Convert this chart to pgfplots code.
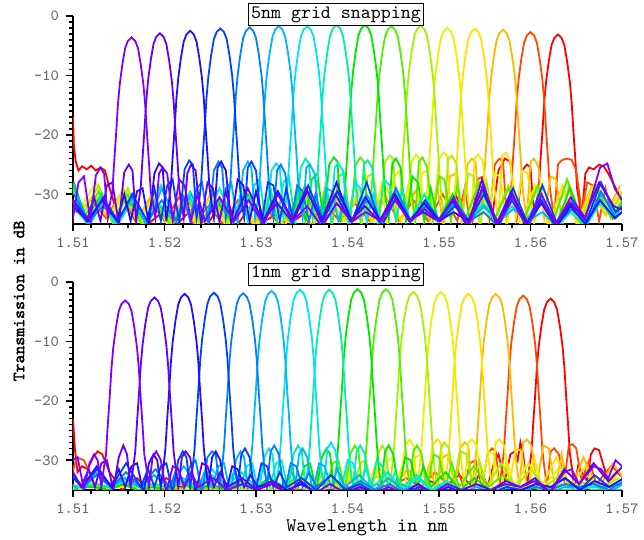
\documentclass[border=0pt]{standalone}
\usepackage{fontspec}
\usepackage{pgfplots}
\pgfplotsset{compat=1.18}

% emboldened mono for the y label
\newfontfamily\labelfont{lmmono10-regular.otf}[FakeBold=2.2]

% rainbow, channel 1 (violet) to channel 16 (red)
\definecolor{c1}{HTML}{8000FF}
\definecolor{c2}{HTML}{6000FF}
\definecolor{c3}{HTML}{2010FF}
\definecolor{c4}{HTML}{0040FF}
\definecolor{c5}{HTML}{0080FF}
\definecolor{c6}{HTML}{00B4FF}
\definecolor{c7}{HTML}{00E4F0}
\definecolor{c8}{HTML}{00F0A8}
\definecolor{c9}{HTML}{00E800}
\definecolor{c10}{HTML}{50F000}
\definecolor{c11}{HTML}{A8F000}
\definecolor{c12}{HTML}{E8F000}
\definecolor{c13}{HTML}{FFE000}
\definecolor{c14}{HTML}{FFB800}
\definecolor{c15}{HTML}{FF4800}
\definecolor{c16}{HTML}{FF0000}

\pgfplotsset{
  wdm/.style={
    scale only axis, width=274.5pt, height=104pt,
    xmin=1.51, xmax=1.57, ymin=-35, ymax=0,
    axis x line*=bottom, axis y line*=left,
    axis line style={line width=1pt, -},
    xtick={1.51,1.52,1.53,1.54,1.55,1.56,1.57},
    ytick={-30,-20,-10,0},
    minor x tick num=4, minor y tick num=9,
    tick align=outside,
    major tick length=3.5pt, minor tick length=2pt,
    tick style={black, line width=0.8pt},
    scaled x ticks=false,
    xticklabel style={/pgf/number format/fixed, /pgf/number format/fixed zerofill, /pgf/number format/precision=2},
    /pgf/number format/assume math mode=true,
    ticklabel style={font=\ttfamily\fontsize{7.8}{9}\selectfont, text=black!60},
    every axis title shift=0pt,
    title style={font=\ttfamily\fontsize{9.5}{11}\selectfont, draw=black, fill=white, inner sep=1.5pt, at={(0.479,1)}, anchor=center},
    every axis plot/.append style={line width=0.9pt, mark=none},
  }
}

\begin{document}
\begin{tikzpicture}
\path[use as bounding box] (-36.5pt,-25pt) rectangle (285.5pt,245pt);

% ---------------- 5nm grid snapping ----------------
\begin{axis}[wdm, at={(0,133pt)}, anchor=south west, title={5nm grid snapping}, title style={yshift=0.8pt}]
\addplot[c16] coordinates {(1.5100,-17) (1.5101,-22) (1.5103,-24.5) (1.5106,-26) (1.5110,-25.3) (1.5115,-25.8) (1.5120,-25.2) (1.5125,-26) (1.5130,-25.5) (1.5135,-26) (1.5140,-29) (1.5150,-34) (1.5166,-31) (1.5182,-35) (1.5198,-33) (1.5214,-35) (1.5230,-32.5) (1.5246,-35.5) (1.5262,-31) (1.5278,-35.5) (1.5294,-32) (1.5310,-34.5) (1.5326,-33) (1.5342,-34.5) (1.5358,-32.5) (1.5374,-34.5) (1.5390,-31.5) (1.5406,-34.5) (1.5422,-33) (1.5438,-34.5) (1.5454,-31) (1.5470,-34.5) (1.5486,-32) (1.5502,-34.5) (1.5518,-30) (1.5534,-35.5) (1.5550,-29) (1.5558,-34) (1.5565,-26) (1.5572,-24) (1.5578,-24.5) (1.5585,-34) (1.5591,-26) (1.5596,-25) (1.5600,-25.5) (1.5604,-34)
 (1.5607,-31) (1.5609,-29.1) (1.5611,-24.1) (1.5613,-19.6) (1.5615,-14.6) (1.5617,-11.1) (1.5620,-7.6) (1.5623,-4.9) (1.5626,-3.7) (1.5630,-3.1) (1.5634,-3.7) (1.5637,-4.9) (1.5640,-7.6) (1.5643,-11.1) (1.5645,-14.6) (1.5647,-19.6) (1.5649,-24.1) (1.5651,-29.1) (1.5653,-31)
 (1.5656,-34) (1.5660,-26.5) (1.5664,-25.5) (1.5669,-25.8) (1.5675,-25) (1.5680,-25.3) (1.5685,-26.5) (1.5690,-28) (1.5700,-31)};
\addplot[c15] coordinates {(1.5088,-30) (1.5104,-33) (1.5120,-31) (1.5136,-34) (1.5152,-30) (1.5168,-34.5) (1.5184,-31) (1.5200,-34.5) (1.5216,-30.5) (1.5232,-35) (1.5248,-32) (1.5264,-35) (1.5280,-31) (1.5296,-35) (1.5312,-32.5) (1.5328,-35.5) (1.5344,-31) (1.5360,-35.5) (1.5376,-32) (1.5392,-34.5) (1.5408,-31.5) (1.5424,-34.5) (1.5440,-30) (1.5456,-34.5) (1.5472,-31) (1.5488,-34.5) (1.5504,-30) (1.5520,-34.5) (1.5528,-29) (1.5535,-35.5) (1.5542,-27.5) (1.5548,-27) (1.5555,-34) (1.5561,-25) (1.5566,-24) (1.5570,-24.5) (1.5574,-34)
 (1.5577,-31) (1.5579,-28.7) (1.5581,-23.7) (1.5583,-19.2) (1.5585,-14.2) (1.5587,-10.7) (1.5590,-7.2) (1.5593,-4.5) (1.5596,-3.3) (1.5600,-2.7) (1.5604,-3.3) (1.5607,-4.5) (1.5610,-7.2) (1.5613,-10.7) (1.5615,-14.2) (1.5617,-19.2) (1.5619,-23.7) (1.5621,-28.7) (1.5623,-31)
 (1.5626,-34) (1.5630,-25) (1.5634,-24.3) (1.5639,-24) (1.5645,-24.2) (1.5650,-26) (1.5656,-33) (1.5662,-28) (1.5668,-28.5) (1.5675,-34.5) (1.5682,-29) (1.5690,-34) (1.5706,-30)};
\addplot[c14] coordinates {(1.5090,-28) (1.5106,-33) (1.5122,-30.5) (1.5138,-34) (1.5154,-29.5) (1.5170,-34.5) (1.5186,-30) (1.5202,-34.5) (1.5218,-31.5) (1.5234,-35) (1.5250,-30) (1.5266,-35) (1.5282,-32) (1.5298,-35) (1.5314,-30.5) (1.5330,-35.5) (1.5346,-31.5) (1.5362,-35.5) (1.5378,-30) (1.5394,-34.5) (1.5410,-31) (1.5426,-34.5) (1.5442,-30.5) (1.5458,-34.5) (1.5474,-29.5) (1.5490,-34.5) (1.5498,-28.5) (1.5505,-35.5) (1.5512,-27) (1.5518,-26.5) (1.5525,-34) (1.5531,-25) (1.5536,-24) (1.5540,-24.5) (1.5544,-34)
 (1.5547,-31) (1.5549,-28.3) (1.5551,-23.3) (1.5553,-18.8) (1.5555,-13.8) (1.5557,-10.3) (1.5560,-6.8) (1.5563,-4.1) (1.5566,-2.9) (1.5570,-2.3) (1.5574,-2.9) (1.5577,-4.1) (1.5580,-6.8) (1.5583,-10.3) (1.5585,-13.8) (1.5587,-18.8) (1.5589,-23.3) (1.5591,-28.3) (1.5593,-31)
 (1.5596,-34) (1.5600,-24.5) (1.5604,-24) (1.5609,-25.5) (1.5615,-34) (1.5622,-27) (1.5628,-27.5) (1.5635,-35) (1.5642,-28.5) (1.5650,-35) (1.5666,-29) (1.5682,-33.5) (1.5698,-28.5)};
\addplot[c13] coordinates {(1.5091,-29) (1.5107,-33) (1.5123,-30) (1.5139,-34) (1.5155,-29) (1.5171,-34.5) (1.5187,-30.5) (1.5203,-35) (1.5219,-32) (1.5235,-35) (1.5251,-30) (1.5267,-35) (1.5283,-31.5) (1.5299,-35.5) (1.5315,-30.5) (1.5331,-35.5) (1.5347,-29.5) (1.5363,-34.5) (1.5379,-31) (1.5395,-34.5) (1.5411,-30) (1.5427,-34.5) (1.5443,-29) (1.5459,-34.5) (1.5467,-28) (1.5474,-35) (1.5481,-26.5) (1.5487,-26) (1.5494,-33.5) (1.5500,-24) (1.5505,-23) (1.5509,-23.5) (1.5513,-34)
 (1.5516,-31) (1.5518,-28.1) (1.5520,-23.1) (1.5522,-18.6) (1.5524,-13.6) (1.5526,-10.1) (1.5529,-6.6) (1.5532,-3.9) (1.5535,-2.7) (1.5539,-2.1) (1.5543,-2.7) (1.5546,-3.9) (1.5549,-6.6) (1.5552,-10.1) (1.5554,-13.6) (1.5556,-18.6) (1.5558,-23.1) (1.5560,-28.1) (1.5562,-31)
 (1.5565,-34) (1.5569,-23.5) (1.5573,-23) (1.5578,-24.5) (1.5584,-34) (1.5591,-26) (1.5597,-26.5) (1.5604,-35) (1.5611,-28) (1.5619,-35.5) (1.5635,-28.5) (1.5651,-35) (1.5667,-29) (1.5683,-33.5) (1.5699,-29.5)};
\addplot[c12] coordinates {(1.5093,-27) (1.5109,-32) (1.5125,-28) (1.5141,-34) (1.5157,-29.5) (1.5173,-34.5) (1.5189,-30) (1.5205,-35) (1.5221,-31) (1.5237,-35) (1.5253,-32) (1.5269,-35.5) (1.5285,-30.5) (1.5301,-35.5) (1.5317,-31.5) (1.5333,-34.5) (1.5349,-30) (1.5365,-34.5) (1.5381,-30.5) (1.5397,-34.5) (1.5413,-29) (1.5429,-34.5) (1.5437,-28.5) (1.5444,-35.5) (1.5451,-27) (1.5457,-26) (1.5464,-34) (1.5470,-24.5) (1.5475,-23.3) (1.5479,-24) (1.5483,-34)
 (1.5486,-31) (1.5488,-28) (1.5490,-23) (1.5492,-18.5) (1.5494,-13.5) (1.5496,-10) (1.5499,-6.5) (1.5502,-3.8) (1.5505,-2.6) (1.5509,-2.0) (1.5513,-2.6) (1.5516,-3.8) (1.5519,-6.5) (1.5522,-10) (1.5524,-13.5) (1.5526,-18.5) (1.5528,-23) (1.5530,-28) (1.5532,-31)
 (1.5535,-34) (1.5539,-24) (1.5543,-23.3) (1.5548,-24.5) (1.5554,-34) (1.5561,-26.5) (1.5567,-27) (1.5574,-35.5) (1.5581,-28) (1.5589,-35.5) (1.5605,-28.5) (1.5621,-35) (1.5637,-29.5) (1.5653,-35) (1.5669,-28.5) (1.5685,-33) (1.5701,-29.5)};
\addplot[c11] coordinates {(1.5096,-27) (1.5112,-33) (1.5128,-28.5) (1.5144,-34.5) (1.5160,-29) (1.5176,-35) (1.5192,-31) (1.5208,-35) (1.5224,-30.5) (1.5240,-35.5) (1.5256,-31.5) (1.5272,-35.5) (1.5288,-29.5) (1.5304,-34.5) (1.5320,-31) (1.5336,-34.5) (1.5352,-30) (1.5368,-34.5) (1.5384,-29.5) (1.5400,-34.5) (1.5408,-28) (1.5415,-35.5) (1.5422,-27) (1.5428,-26.5) (1.5435,-34.5) (1.5441,-24.5) (1.5446,-23.5) (1.5450,-24) (1.5454,-34)
 (1.5457,-31) (1.5459,-27.6) (1.5461,-22.6) (1.5463,-18.1) (1.5465,-13.1) (1.5467,-9.6) (1.5470,-6.1) (1.5473,-3.4) (1.5476,-2.2) (1.5480,-1.6) (1.5484,-2.2) (1.5487,-3.4) (1.5490,-6.1) (1.5493,-9.6) (1.5495,-13.1) (1.5497,-18.1) (1.5499,-22.6) (1.5501,-27.6) (1.5503,-31)
 (1.5506,-34) (1.5510,-24) (1.5514,-23.5) (1.5519,-24.8) (1.5525,-34.5) (1.5532,-26.5) (1.5538,-27) (1.5545,-35.5) (1.5552,-28) (1.5560,-34.5) (1.5576,-28.5) (1.5592,-34.5) (1.5608,-29) (1.5624,-35) (1.5640,-27.5) (1.5656,-34) (1.5672,-28.5) (1.5688,-33) (1.5704,-29)};
\addplot[c10] coordinates {(1.5096,-27.5) (1.5112,-34) (1.5128,-29.5) (1.5144,-35) (1.5160,-30) (1.5176,-35.5) (1.5192,-32) (1.5208,-35.5) (1.5224,-30.5) (1.5240,-34.5) (1.5256,-31) (1.5272,-34.5) (1.5288,-29.5) (1.5304,-34.5) (1.5320,-30.5) (1.5336,-34.5) (1.5352,-29) (1.5368,-34.5) (1.5376,-28.5) (1.5383,-35.5) (1.5390,-27) (1.5396,-26.5) (1.5403,-34.5) (1.5409,-25) (1.5414,-23.8) (1.5418,-24.5) (1.5422,-34)
 (1.5425,-31) (1.5427,-27.7) (1.5429,-22.7) (1.5431,-18.2) (1.5433,-13.2) (1.5435,-9.7) (1.5438,-6.2) (1.5441,-3.5) (1.5444,-2.3) (1.5448,-1.7) (1.5452,-2.3) (1.5455,-3.5) (1.5458,-6.2) (1.5461,-9.7) (1.5463,-13.2) (1.5465,-18.2) (1.5467,-22.7) (1.5469,-27.7) (1.5471,-31)
 (1.5474,-34) (1.5478,-24.5) (1.5482,-23.8) (1.5487,-25.5) (1.5493,-34.5) (1.5500,-27) (1.5506,-27.5) (1.5513,-34.5) (1.5520,-28.5) (1.5528,-34.5) (1.5544,-28) (1.5560,-34.5) (1.5576,-29) (1.5592,-34.5) (1.5608,-28.5) (1.5624,-35) (1.5640,-27.5) (1.5656,-35) (1.5672,-29) (1.5688,-34) (1.5704,-30)};
\addplot[c9] coordinates {(1.5099,-28) (1.5115,-34) (1.5131,-30) (1.5147,-35) (1.5163,-31.5) (1.5179,-34.5) (1.5195,-32) (1.5211,-34.5) (1.5227,-30.5) (1.5243,-34.5) (1.5259,-31.5) (1.5275,-34.5) (1.5291,-30) (1.5307,-34.5) (1.5323,-29.5) (1.5339,-34.5) (1.5347,-28.5) (1.5354,-34.5) (1.5361,-27.5) (1.5367,-26.5) (1.5374,-34.5) (1.5380,-25) (1.5385,-23.8) (1.5389,-24.5) (1.5393,-34)
 (1.5396,-31) (1.5398,-27.5) (1.5400,-22.5) (1.5402,-18) (1.5404,-13) (1.5406,-9.5) (1.5409,-6) (1.5412,-3.3) (1.5415,-2.1) (1.5419,-1.5) (1.5423,-2.1) (1.5426,-3.3) (1.5429,-6) (1.5432,-9.5) (1.5434,-13) (1.5436,-18) (1.5438,-22.5) (1.5440,-27.5) (1.5442,-31)
 (1.5445,-34) (1.5449,-24.8) (1.5453,-24) (1.5458,-25.5) (1.5464,-34.5) (1.5471,-27) (1.5477,-28) (1.5484,-34.5) (1.5491,-29) (1.5499,-34.5) (1.5515,-30) (1.5531,-34.5) (1.5547,-29.5) (1.5563,-34.5) (1.5579,-31) (1.5595,-34.5) (1.5611,-30.5) (1.5627,-35.5) (1.5643,-29) (1.5659,-35) (1.5675,-31) (1.5691,-34) (1.5707,-30)};
\addplot[c8] coordinates {(1.5100,-32) (1.5116,-35) (1.5132,-30) (1.5148,-35.5) (1.5164,-31) (1.5180,-34.5) (1.5196,-32) (1.5212,-34.5) (1.5228,-29.5) (1.5244,-34.5) (1.5260,-31) (1.5276,-34.5) (1.5292,-30.5) (1.5308,-34.5) (1.5316,-29) (1.5323,-34.5) (1.5330,-28) (1.5336,-27) (1.5343,-35) (1.5349,-25.5) (1.5354,-24) (1.5358,-24.8) (1.5362,-34)
 (1.5365,-31) (1.5367,-27.5) (1.5369,-22.5) (1.5371,-18) (1.5373,-13) (1.5375,-9.5) (1.5378,-6) (1.5381,-3.3) (1.5384,-2.1) (1.5388,-1.5) (1.5392,-2.1) (1.5395,-3.3) (1.5398,-6) (1.5401,-9.5) (1.5403,-13) (1.5405,-18) (1.5407,-22.5) (1.5409,-27.5) (1.5411,-31)
 (1.5414,-34) (1.5418,-25) (1.5422,-24.3) (1.5427,-25.5) (1.5433,-35) (1.5440,-27.5) (1.5446,-28.5) (1.5453,-34.5) (1.5460,-29) (1.5468,-34.5) (1.5484,-30) (1.5500,-34.5) (1.5516,-30.5) (1.5532,-34.5) (1.5548,-31.5) (1.5564,-34.5) (1.5580,-32) (1.5596,-34.5) (1.5612,-31) (1.5628,-35.5) (1.5644,-33) (1.5660,-35.5) (1.5676,-31.5) (1.5692,-34) (1.5708,-32)};
\addplot[c7] coordinates {(1.5100,-29.5) (1.5116,-35) (1.5132,-31) (1.5148,-35.5) (1.5164,-30) (1.5180,-34.5) (1.5196,-28.5) (1.5212,-34.5) (1.5228,-30.5) (1.5244,-34.5) (1.5260,-29) (1.5276,-34.5) (1.5284,-29.5) (1.5291,-34.5) (1.5298,-28.5) (1.5304,-27.5) (1.5311,-35) (1.5317,-26) (1.5322,-24.8) (1.5326,-25.5) (1.5330,-34)
 (1.5333,-31) (1.5335,-27.7) (1.5337,-22.7) (1.5339,-18.2) (1.5341,-13.2) (1.5343,-9.7) (1.5346,-6.2) (1.5349,-3.5) (1.5352,-2.3) (1.5356,-1.7) (1.5360,-2.3) (1.5363,-3.5) (1.5366,-6.2) (1.5369,-9.7) (1.5371,-13.2) (1.5373,-18.2) (1.5375,-22.7) (1.5377,-27.7) (1.5379,-31)
 (1.5382,-34) (1.5386,-25.5) (1.5390,-24.8) (1.5395,-26) (1.5401,-35) (1.5408,-28) (1.5414,-29) (1.5421,-34.5) (1.5428,-30) (1.5436,-34.5) (1.5452,-29.5) (1.5468,-34.5) (1.5484,-31.5) (1.5500,-34.5) (1.5516,-30.5) (1.5532,-34.5) (1.5548,-32) (1.5564,-34.5) (1.5580,-31) (1.5596,-34.5) (1.5612,-30) (1.5628,-35.5) (1.5644,-32) (1.5660,-35) (1.5676,-31) (1.5692,-34) (1.5708,-30)};
\addplot[c6] coordinates {(1.5101,-28) (1.5117,-35.5) (1.5133,-31) (1.5149,-34.5) (1.5165,-30.5) (1.5181,-35.5) (1.5197,-29) (1.5213,-34.5) (1.5229,-30) (1.5245,-34.5) (1.5253,-29.5) (1.5260,-34.5) (1.5267,-29) (1.5273,-28) (1.5280,-35) (1.5286,-26) (1.5291,-24.5) (1.5295,-25.5) (1.5299,-34)
 (1.5302,-31) (1.5304,-27.7) (1.5306,-22.7) (1.5308,-18.2) (1.5310,-13.2) (1.5312,-9.7) (1.5315,-6.2) (1.5318,-3.5) (1.5321,-2.3) (1.5325,-1.7) (1.5329,-2.3) (1.5332,-3.5) (1.5335,-6.2) (1.5338,-9.7) (1.5340,-13.2) (1.5342,-18.2) (1.5344,-22.7) (1.5346,-27.7) (1.5348,-31)
 (1.5351,-34) (1.5355,-25.5) (1.5359,-25) (1.5364,-26.5) (1.5370,-35) (1.5377,-29) (1.5383,-29.5) (1.5390,-34.5) (1.5397,-30.5) (1.5405,-34.5) (1.5421,-30) (1.5437,-34.5) (1.5453,-29) (1.5469,-34.5) (1.5485,-31) (1.5501,-34.5) (1.5517,-31.5) (1.5533,-34.5) (1.5549,-32) (1.5565,-34.5) (1.5581,-32.5) (1.5597,-34.5) (1.5613,-33) (1.5629,-35.5) (1.5645,-31) (1.5661,-35) (1.5677,-30) (1.5693,-33) (1.5709,-31)};
\addplot[c5] coordinates {(1.5101,-30) (1.5117,-34.5) (1.5133,-32) (1.5149,-34.5) (1.5165,-30) (1.5181,-34.5) (1.5197,-31) (1.5213,-34.5) (1.5221,-30.5) (1.5228,-34.5) (1.5235,-29) (1.5241,-28) (1.5248,-35) (1.5254,-26) (1.5259,-24.5) (1.5263,-25.5) (1.5267,-34)
 (1.5270,-31) (1.5272,-27.9) (1.5274,-22.9) (1.5276,-18.4) (1.5278,-13.4) (1.5280,-9.9) (1.5283,-6.4) (1.5286,-3.7) (1.5289,-2.5) (1.5293,-1.9) (1.5297,-2.5) (1.5300,-3.7) (1.5303,-6.4) (1.5306,-9.9) (1.5308,-13.4) (1.5310,-18.4) (1.5312,-22.9) (1.5314,-27.9) (1.5316,-31)
 (1.5319,-34) (1.5323,-26) (1.5327,-25) (1.5332,-26.5) (1.5338,-35) (1.5345,-28.5) (1.5351,-29.5) (1.5358,-34.5) (1.5365,-30) (1.5373,-34.5) (1.5389,-29.5) (1.5405,-34.5) (1.5421,-31) (1.5437,-34.5) (1.5453,-29) (1.5469,-34.5) (1.5485,-32) (1.5501,-34.5) (1.5517,-31) (1.5533,-34.5) (1.5549,-33) (1.5565,-35.5) (1.5581,-30.5) (1.5597,-35.5) (1.5613,-31) (1.5629,-35) (1.5645,-32.5) (1.5661,-35) (1.5677,-29.5) (1.5693,-34) (1.5709,-31.5)};
\addplot[c4] coordinates {(1.5101,-31) (1.5117,-34.5) (1.5133,-30.5) (1.5149,-34.5) (1.5165,-30) (1.5181,-34.5) (1.5189,-29) (1.5196,-34.5) (1.5203,-28.5) (1.5209,-27.5) (1.5216,-35) (1.5222,-25.8) (1.5227,-24.3) (1.5231,-25) (1.5235,-34)
 (1.5238,-31) (1.5240,-28.1) (1.5242,-23.1) (1.5244,-18.6) (1.5246,-13.6) (1.5248,-10.1) (1.5251,-6.6) (1.5254,-3.9) (1.5257,-2.7) (1.5261,-2.1) (1.5265,-2.7) (1.5268,-3.9) (1.5271,-6.6) (1.5274,-10.1) (1.5276,-13.6) (1.5278,-18.6) (1.5280,-23.1) (1.5282,-28.1) (1.5284,-31)
 (1.5287,-34) (1.5291,-25.5) (1.5295,-24.5) (1.5300,-26) (1.5306,-35) (1.5313,-28) (1.5319,-28.5) (1.5326,-34.5) (1.5333,-29) (1.5341,-34.5) (1.5357,-28.5) (1.5373,-34.5) (1.5389,-29.5) (1.5405,-34.5) (1.5421,-28) (1.5437,-35.5) (1.5453,-30.5) (1.5469,-34.5) (1.5485,-31) (1.5501,-34.5) (1.5517,-32) (1.5533,-34.5) (1.5549,-30) (1.5565,-35) (1.5581,-29) (1.5597,-35) (1.5613,-28.5) (1.5629,-35) (1.5645,-31.5) (1.5661,-34.5) (1.5677,-28) (1.5693,-33) (1.5709,-31)};
\addplot[c3] coordinates {(1.5100,-32) (1.5116,-34.5) (1.5132,-31) (1.5148,-34.5) (1.5156,-30) (1.5163,-34.5) (1.5170,-29.5) (1.5176,-29) (1.5183,-35) (1.5189,-26.5) (1.5194,-24.8) (1.5198,-25.5) (1.5202,-34.5)
 (1.5205,-31) (1.5207,-28.5) (1.5209,-23.5) (1.5211,-19) (1.5213,-14) (1.5215,-10.5) (1.5218,-7) (1.5221,-4.3) (1.5224,-3.1) (1.5228,-2.5) (1.5232,-3.1) (1.5235,-4.3) (1.5238,-7) (1.5241,-10.5) (1.5243,-14) (1.5245,-19) (1.5247,-23.5) (1.5249,-28.5) (1.5251,-31)
 (1.5254,-34) (1.5258,-25.5) (1.5262,-24.5) (1.5267,-26) (1.5273,-35) (1.5280,-27.5) (1.5286,-28.5) (1.5293,-34.5) (1.5300,-29.5) (1.5308,-34.5) (1.5324,-29.5) (1.5340,-34.5) (1.5356,-29.5) (1.5372,-34.5) (1.5388,-28) (1.5404,-34.5) (1.5420,-30.5) (1.5436,-34.5) (1.5452,-30) (1.5468,-34.5) (1.5484,-31.5) (1.5500,-34.5) (1.5516,-33) (1.5532,-34.5) (1.5548,-29) (1.5564,-35.5) (1.5580,-30) (1.5596,-35) (1.5612,-31.5) (1.5628,-35.5) (1.5644,-32) (1.5660,-35) (1.5676,-31) (1.5692,-34) (1.5708,-32)};
\addplot[c2] coordinates {(1.5099,-31) (1.5115,-34.5) (1.5123,-30.5) (1.5130,-34.5) (1.5137,-28.5) (1.5143,-28) (1.5150,-35) (1.5156,-26.3) (1.5161,-25) (1.5165,-26) (1.5169,-34.5)
 (1.5172,-31) (1.5174,-28.9) (1.5176,-23.9) (1.5178,-19.4) (1.5180,-14.4) (1.5182,-10.9) (1.5185,-7.4) (1.5188,-4.7) (1.5191,-3.5) (1.5195,-2.9) (1.5199,-3.5) (1.5202,-4.7) (1.5205,-7.4) (1.5208,-10.9) (1.5210,-14.4) (1.5212,-19.4) (1.5214,-23.9) (1.5216,-28.9) (1.5218,-31)
 (1.5221,-34) (1.5225,-26.5) (1.5229,-25) (1.5234,-26) (1.5240,-35) (1.5247,-28) (1.5253,-29) (1.5260,-34.5) (1.5267,-29.5) (1.5275,-34.5) (1.5291,-29) (1.5307,-34.5) (1.5323,-31.5) (1.5339,-34.5) (1.5355,-29) (1.5371,-34.5) (1.5387,-30) (1.5403,-34.5) (1.5419,-32) (1.5435,-34.5) (1.5451,-30) (1.5467,-34.5) (1.5483,-33) (1.5499,-34.5) (1.5515,-31) (1.5531,-35.5) (1.5547,-27.5) (1.5563,-35) (1.5579,-29.5) (1.5595,-35) (1.5611,-31) (1.5627,-35) (1.5643,-31.5) (1.5659,-34) (1.5675,-28) (1.5691,-32) (1.5707,-33)};
\addplot[c1] coordinates {(1.5099,-35) (1.5106,-28) (1.5112,-27) (1.5119,-34.5) (1.5125,-26.8) (1.5130,-25.5) (1.5134,-26.5) (1.5138,-34)
 (1.5141,-31) (1.5143,-29.6) (1.5145,-24.6) (1.5147,-20.1) (1.5149,-15.1) (1.5151,-11.6) (1.5154,-8.1) (1.5157,-5.4) (1.5160,-4.2) (1.5164,-3.6) (1.5168,-4.2) (1.5171,-5.4) (1.5174,-8.1) (1.5177,-11.6) (1.5179,-15.1) (1.5181,-20.1) (1.5183,-24.6) (1.5185,-29.6) (1.5187,-31)
 (1.5190,-34) (1.5194,-26.5) (1.5198,-25.5) (1.5203,-26.5) (1.5209,-34.5) (1.5216,-27.5) (1.5222,-28.5) (1.5229,-34.5) (1.5236,-30) (1.5244,-34.5) (1.5260,-30.5) (1.5276,-34.5) (1.5292,-31) (1.5308,-35) (1.5324,-30) (1.5340,-34.5) (1.5356,-32) (1.5372,-35.5) (1.5388,-31.5) (1.5404,-34.5) (1.5420,-33) (1.5436,-34.5) (1.5452,-31) (1.5468,-34.5) (1.5484,-32.5) (1.5500,-34.5) (1.5516,-30.5) (1.5532,-35.5) (1.5548,-28.5) (1.5564,-35) (1.5580,-31) (1.5596,-35.5) (1.5612,-30) (1.5628,-35) (1.5644,-30.5) (1.5660,-34) (1.5676,-25.5) (1.5684,-24.8) (1.5692,-29) (1.5700,-31)};
\end{axis}

% ---------------- 1nm grid snapping ----------------
\begin{axis}[wdm, at={(0,0)}, anchor=south west, title={1nm grid snapping}, title style={yshift=4pt}]
\addplot[c16] coordinates {(1.5100,-23) (1.5102,-28) (1.5105,-32) (1.5110,-31) (1.5116,-31.5) (1.5122,-29.5) (1.5127,-28.5) (1.5132,-29) (1.5140,-32) (1.5154,-35) (1.5170,-33) (1.5186,-35.5) (1.5202,-33) (1.5218,-34.5) (1.5234,-34) (1.5250,-34.5) (1.5266,-34.5) (1.5282,-35) (1.5298,-35) (1.5314,-35) (1.5330,-34.5) (1.5346,-35) (1.5362,-35) (1.5378,-35) (1.5394,-34.5) (1.5410,-35) (1.5426,-35) (1.5442,-35) (1.5458,-34) (1.5474,-35) (1.5490,-33.5) (1.5506,-34.5) (1.5522,-32.5) (1.5538,-34.5) (1.5546,-31.5) (1.5553,-34.5) (1.5560,-30.5) (1.5565,-29) (1.5572,-33.5) (1.5578,-29) (1.5583,-28.5) (1.5586,-30) (1.5589,-27) (1.5592,-29) (1.5596,-34.5)
 (1.5599,-31) (1.5601,-28.8) (1.5603,-23.8) (1.5605,-19.3) (1.5607,-14.3) (1.5609,-10.8) (1.5612,-7.3) (1.5615,-4.6) (1.5618,-3.4) (1.5622,-2.8) (1.5626,-3.4) (1.5629,-4.6) (1.5632,-7.3) (1.5635,-10.8) (1.5637,-14.3) (1.5639,-19.3) (1.5641,-23.8) (1.5643,-28.8) (1.5645,-31)
 (1.5648,-34.5) (1.5652,-31) (1.5656,-32) (1.5662,-33.5) (1.5666,-29) (1.5670,-28) (1.5675,-28.3) (1.5680,-31) (1.5686,-34) (1.5694,-32) (1.5702,-33)};
\addplot[c15] coordinates {(1.5096,-34) (1.5104,-29.5) (1.5112,-30) (1.5128,-35.5) (1.5144,-33.5) (1.5160,-34.5) (1.5176,-34) (1.5192,-34.5) (1.5208,-34.5) (1.5224,-35) (1.5240,-35) (1.5256,-35) (1.5272,-34.5) (1.5288,-35) (1.5304,-35) (1.5320,-35) (1.5336,-34.5) (1.5352,-35) (1.5368,-35) (1.5384,-35) (1.5400,-34.5) (1.5416,-35) (1.5432,-34) (1.5448,-34.5) (1.5464,-33) (1.5480,-34.5) (1.5496,-32) (1.5512,-34.5) (1.5520,-31.5) (1.5527,-34.5) (1.5534,-30.5) (1.5540,-30) (1.5547,-34.5) (1.5553,-29) (1.5558,-28) (1.5562,-28.5) (1.5566,-34.5)
 (1.5569,-31) (1.5571,-28.3) (1.5573,-23.3) (1.5575,-18.8) (1.5577,-13.8) (1.5579,-10.3) (1.5582,-6.8) (1.5585,-4.1) (1.5588,-2.9) (1.5592,-2.3) (1.5596,-2.9) (1.5599,-4.1) (1.5602,-6.8) (1.5605,-10.3) (1.5607,-13.8) (1.5609,-18.8) (1.5611,-23.3) (1.5613,-28.3) (1.5615,-31)
 (1.5618,-34.5) (1.5622,-28.5) (1.5626,-28) (1.5631,-29) (1.5637,-33.5) (1.5642,-27.5) (1.5646,-27.3) (1.5650,-28) (1.5656,-33.5) (1.5664,-30) (1.5672,-34) (1.5688,-31) (1.5704,-33)};
\addplot[c14] coordinates {(1.5082,-32) (1.5098,-35) (1.5114,-33) (1.5130,-35.5) (1.5146,-34.5) (1.5162,-34.5) (1.5178,-34) (1.5194,-34.5) (1.5210,-34.5) (1.5226,-35) (1.5242,-35) (1.5258,-35) (1.5274,-34.5) (1.5290,-35) (1.5306,-35) (1.5322,-35) (1.5338,-34.5) (1.5354,-35) (1.5370,-34) (1.5386,-35) (1.5402,-33.5) (1.5418,-34.5) (1.5434,-32.5) (1.5450,-34.5) (1.5466,-31.5) (1.5482,-34.5) (1.5490,-30.5) (1.5497,-35.5) (1.5504,-29.5) (1.5510,-29) (1.5517,-34) (1.5523,-28) (1.5528,-27) (1.5532,-27.5) (1.5536,-34.5)
 (1.5539,-31) (1.5541,-28) (1.5543,-23) (1.5545,-18.5) (1.5547,-13.5) (1.5549,-10) (1.5552,-6.5) (1.5555,-3.8) (1.5558,-2.6) (1.5562,-2.0) (1.5566,-2.6) (1.5569,-3.8) (1.5572,-6.5) (1.5575,-10) (1.5577,-13.5) (1.5579,-18.5) (1.5581,-23) (1.5583,-28) (1.5585,-31)
 (1.5588,-34.5) (1.5592,-27) (1.5596,-26.5) (1.5601,-27.5) (1.5607,-34) (1.5614,-27.5) (1.5620,-28) (1.5627,-35) (1.5634,-29) (1.5642,-35.5) (1.5658,-29.5) (1.5674,-35) (1.5690,-30.5) (1.5706,-34)};
\addplot[c13] coordinates {(1.5084,-33) (1.5100,-35) (1.5116,-33.5) (1.5132,-34.5) (1.5148,-34.5) (1.5164,-34.5) (1.5180,-34) (1.5196,-35) (1.5212,-35) (1.5228,-35) (1.5244,-34.5) (1.5260,-35) (1.5276,-35) (1.5292,-35) (1.5308,-34) (1.5324,-35) (1.5340,-34.5) (1.5356,-35) (1.5372,-33.5) (1.5388,-34.5) (1.5404,-33) (1.5420,-34.5) (1.5436,-31.5) (1.5452,-34.5) (1.5460,-31) (1.5467,-35.5) (1.5474,-29.5) (1.5480,-29) (1.5487,-34) (1.5493,-27.5) (1.5498,-26.5) (1.5502,-27) (1.5506,-34.5)
 (1.5509,-31) (1.5511,-28) (1.5513,-23) (1.5515,-18.5) (1.5517,-13.5) (1.5519,-10) (1.5522,-6.5) (1.5525,-3.8) (1.5528,-2.6) (1.5532,-2.0) (1.5536,-2.6) (1.5539,-3.8) (1.5542,-6.5) (1.5545,-10) (1.5547,-13.5) (1.5549,-18.5) (1.5551,-23) (1.5553,-28) (1.5555,-31)
 (1.5558,-34.5) (1.5562,-27) (1.5566,-26.5) (1.5571,-27.5) (1.5577,-34) (1.5584,-28) (1.5590,-28.5) (1.5597,-35.5) (1.5604,-29.5) (1.5612,-34.5) (1.5628,-29.5) (1.5644,-34.5) (1.5660,-31) (1.5676,-35.5) (1.5692,-32)};
\addplot[c12] coordinates {(1.5086,-33) (1.5102,-35.5) (1.5118,-33.5) (1.5134,-34.5) (1.5150,-34.5) (1.5166,-34.5) (1.5182,-34) (1.5198,-35) (1.5214,-35) (1.5230,-35) (1.5246,-34) (1.5262,-35) (1.5278,-34.5) (1.5294,-35) (1.5310,-34) (1.5326,-35) (1.5342,-33.5) (1.5358,-34.5) (1.5374,-32.5) (1.5390,-34.5) (1.5406,-32) (1.5422,-34.5) (1.5430,-31) (1.5437,-34.5) (1.5444,-30) (1.5450,-29.5) (1.5457,-34.5) (1.5463,-27.5) (1.5468,-26.5) (1.5472,-27.5) (1.5476,-34.5)
 (1.5479,-31) (1.5481,-27.7) (1.5483,-22.7) (1.5485,-18.2) (1.5487,-13.2) (1.5489,-9.7) (1.5492,-6.2) (1.5495,-3.5) (1.5498,-2.3) (1.5502,-1.7) (1.5506,-2.3) (1.5509,-3.5) (1.5512,-6.2) (1.5515,-9.7) (1.5517,-13.2) (1.5519,-18.2) (1.5521,-22.7) (1.5523,-27.7) (1.5525,-31)
 (1.5528,-34.5) (1.5532,-27) (1.5536,-26.5) (1.5541,-27.5) (1.5547,-34) (1.5554,-28.5) (1.5560,-29) (1.5567,-35.5) (1.5574,-30) (1.5582,-34.5) (1.5598,-30.5) (1.5614,-34.5) (1.5630,-31.5) (1.5646,-34.5) (1.5662,-32.5) (1.5678,-35.5) (1.5694,-32.5)};
\addplot[c11] coordinates {(1.5088,-33) (1.5104,-35.5) (1.5120,-33.5) (1.5136,-34.5) (1.5152,-34) (1.5168,-34.5) (1.5184,-34.5) (1.5200,-35) (1.5216,-35) (1.5232,-35) (1.5248,-34) (1.5264,-35) (1.5280,-34.5) (1.5296,-35) (1.5312,-33.5) (1.5328,-35) (1.5344,-33) (1.5360,-34.5) (1.5376,-32) (1.5392,-34.5) (1.5400,-31.5) (1.5407,-34.5) (1.5414,-30.5) (1.5420,-30) (1.5427,-35) (1.5433,-29) (1.5438,-27.5) (1.5442,-28.5) (1.5446,-34.5)
 (1.5449,-31) (1.5451,-27.7) (1.5453,-22.7) (1.5455,-18.2) (1.5457,-13.2) (1.5459,-9.7) (1.5462,-6.2) (1.5465,-3.5) (1.5468,-2.3) (1.5472,-1.7) (1.5476,-2.3) (1.5479,-3.5) (1.5482,-6.2) (1.5485,-9.7) (1.5487,-13.2) (1.5489,-18.2) (1.5491,-22.7) (1.5493,-27.7) (1.5495,-31)
 (1.5498,-34.5) (1.5502,-28) (1.5506,-27) (1.5511,-28) (1.5517,-34.5) (1.5524,-28.5) (1.5530,-29) (1.5537,-34.5) (1.5544,-30) (1.5552,-34.5) (1.5568,-30.5) (1.5584,-34.5) (1.5600,-31.5) (1.5616,-34.5) (1.5632,-32.5) (1.5648,-34.5) (1.5664,-33.5) (1.5680,-34.5) (1.5696,-33)};
\addplot[c10] coordinates {(1.5090,-34) (1.5106,-34.5) (1.5122,-34.5) (1.5138,-34.5) (1.5154,-34) (1.5170,-35) (1.5186,-35) (1.5202,-35) (1.5218,-34) (1.5234,-35) (1.5250,-34.5) (1.5266,-35) (1.5282,-34) (1.5298,-35) (1.5314,-33) (1.5330,-34.5) (1.5346,-32.5) (1.5362,-34.5) (1.5370,-31.5) (1.5377,-34.5) (1.5384,-30.5) (1.5390,-30) (1.5397,-35) (1.5403,-29) (1.5408,-27.5) (1.5412,-28.5) (1.5416,-34.5)
 (1.5419,-31) (1.5421,-27.2) (1.5423,-22.2) (1.5425,-17.7) (1.5427,-12.7) (1.5429,-9.2) (1.5432,-5.7) (1.5435,-3.0) (1.5438,-1.8) (1.5442,-1.2) (1.5446,-1.8) (1.5449,-3.0) (1.5452,-5.7) (1.5455,-9.2) (1.5457,-12.7) (1.5459,-17.7) (1.5461,-22.2) (1.5463,-27.2) (1.5465,-31)
 (1.5468,-34.5) (1.5472,-28.5) (1.5476,-27.5) (1.5481,-29) (1.5487,-35) (1.5494,-29) (1.5500,-29.5) (1.5507,-34.5) (1.5514,-30.5) (1.5522,-34.5) (1.5538,-31) (1.5554,-34.5) (1.5570,-32.5) (1.5586,-35) (1.5602,-33.5) (1.5618,-35) (1.5634,-34) (1.5650,-35) (1.5666,-34.5) (1.5682,-34.5) (1.5698,-34)};
\addplot[c9] coordinates {(1.5091,-34) (1.5107,-34.5) (1.5123,-34.5) (1.5139,-35) (1.5155,-34) (1.5171,-35) (1.5187,-34.5) (1.5203,-35) (1.5219,-33.5) (1.5235,-35) (1.5251,-34) (1.5267,-35) (1.5283,-33.5) (1.5299,-34.5) (1.5315,-33) (1.5331,-34.5) (1.5339,-32) (1.5346,-34.5) (1.5353,-31) (1.5359,-30.5) (1.5366,-35) (1.5372,-29.5) (1.5377,-28) (1.5381,-29) (1.5385,-34.5)
 (1.5388,-31) (1.5390,-27.2) (1.5392,-22.2) (1.5394,-17.7) (1.5396,-12.7) (1.5398,-9.2) (1.5401,-5.7) (1.5404,-3.0) (1.5407,-1.8) (1.5411,-1.2) (1.5415,-1.8) (1.5418,-3.0) (1.5421,-5.7) (1.5424,-9.2) (1.5426,-12.7) (1.5428,-17.7) (1.5430,-22.2) (1.5432,-27.2) (1.5434,-31)
 (1.5437,-34.5) (1.5441,-28.5) (1.5445,-27.5) (1.5450,-29) (1.5456,-35) (1.5463,-29.5) (1.5469,-30) (1.5476,-34.5) (1.5483,-31) (1.5491,-34.5) (1.5507,-32) (1.5523,-35) (1.5539,-33) (1.5555,-35) (1.5571,-34) (1.5587,-35.5) (1.5603,-34.5) (1.5619,-35.5) (1.5635,-35) (1.5651,-35.5) (1.5667,-35) (1.5683,-35) (1.5699,-35)};
\addplot[c8] coordinates {(1.5092,-34) (1.5108,-34.5) (1.5124,-34) (1.5140,-34.5) (1.5156,-33) (1.5172,-34.5) (1.5188,-34) (1.5204,-34.5) (1.5220,-33.5) (1.5236,-34.5) (1.5252,-32.5) (1.5268,-34.5) (1.5284,-32) (1.5300,-34.5) (1.5308,-31.5) (1.5315,-34.5) (1.5322,-30.5) (1.5328,-30) (1.5335,-35) (1.5341,-29) (1.5346,-27.5) (1.5350,-28.5) (1.5354,-34.5)
 (1.5357,-31) (1.5359,-27.3) (1.5361,-22.3) (1.5363,-17.8) (1.5365,-12.8) (1.5367,-9.3) (1.5370,-5.8) (1.5373,-3.1) (1.5376,-1.9) (1.5380,-1.3) (1.5384,-1.9) (1.5387,-3.1) (1.5390,-5.8) (1.5393,-9.3) (1.5395,-12.8) (1.5397,-17.8) (1.5399,-22.3) (1.5401,-27.3) (1.5403,-31)
 (1.5406,-34.5) (1.5410,-28.5) (1.5414,-27.5) (1.5419,-29) (1.5425,-35) (1.5432,-30) (1.5438,-31) (1.5445,-34.5) (1.5452,-32) (1.5460,-34.5) (1.5476,-32.5) (1.5492,-35) (1.5508,-33.5) (1.5524,-35) (1.5540,-34) (1.5556,-35.5) (1.5572,-35) (1.5588,-35.5) (1.5604,-34.5) (1.5620,-35.5) (1.5636,-35.5) (1.5652,-35.5) (1.5668,-35) (1.5684,-35) (1.5700,-35)};
\addplot[c7] coordinates {(1.5092,-33) (1.5108,-35.5) (1.5124,-32) (1.5140,-34.5) (1.5156,-33.5) (1.5172,-34.5) (1.5188,-32.5) (1.5204,-34.5) (1.5220,-33) (1.5236,-34.5) (1.5252,-31.5) (1.5268,-34.5) (1.5276,-32) (1.5283,-34.5) (1.5290,-31) (1.5296,-30.5) (1.5303,-35.5) (1.5309,-29.5) (1.5314,-28) (1.5318,-29) (1.5322,-34.5)
 (1.5325,-31) (1.5327,-27.3) (1.5329,-22.3) (1.5331,-17.8) (1.5333,-12.8) (1.5335,-9.3) (1.5338,-5.8) (1.5341,-3.1) (1.5344,-1.9) (1.5348,-1.3) (1.5352,-1.9) (1.5355,-3.1) (1.5358,-5.8) (1.5361,-9.3) (1.5363,-12.8) (1.5365,-17.8) (1.5367,-22.3) (1.5369,-27.3) (1.5371,-31)
 (1.5374,-34.5) (1.5378,-28) (1.5382,-27) (1.5387,-28.5) (1.5393,-35) (1.5400,-30) (1.5406,-30.5) (1.5413,-34.5) (1.5420,-31.5) (1.5428,-34.5) (1.5444,-32) (1.5460,-35) (1.5476,-33) (1.5492,-35) (1.5508,-34) (1.5524,-35.5) (1.5540,-35) (1.5556,-35.5) (1.5572,-34.5) (1.5588,-35.5) (1.5604,-35.5) (1.5620,-35.5) (1.5636,-35) (1.5652,-35) (1.5668,-34.5) (1.5684,-34.5) (1.5700,-34)};
\addplot[c6] coordinates {(1.5093,-33) (1.5109,-35.5) (1.5125,-32) (1.5141,-34.5) (1.5157,-33) (1.5173,-34.5) (1.5189,-32.5) (1.5205,-34.5) (1.5221,-31) (1.5237,-34.5) (1.5245,-31.5) (1.5252,-34.5) (1.5259,-31) (1.5265,-30.5) (1.5272,-35.5) (1.5278,-30) (1.5283,-28.5) (1.5287,-29.5) (1.5291,-34.5)
 (1.5294,-31) (1.5296,-27.5) (1.5298,-22.5) (1.5300,-18) (1.5302,-13) (1.5304,-9.5) (1.5307,-6) (1.5310,-3.3) (1.5313,-2.1) (1.5317,-1.5) (1.5321,-2.1) (1.5324,-3.3) (1.5327,-6) (1.5330,-9.5) (1.5332,-13) (1.5334,-18) (1.5336,-22.5) (1.5338,-27.5) (1.5340,-31)
 (1.5343,-34.5) (1.5347,-29) (1.5351,-28) (1.5356,-29.5) (1.5362,-35.5) (1.5369,-30.5) (1.5375,-31) (1.5382,-34.5) (1.5389,-31.5) (1.5397,-34.5) (1.5413,-32.5) (1.5429,-35) (1.5445,-33) (1.5461,-35) (1.5477,-34) (1.5493,-35.5) (1.5509,-35) (1.5525,-35.5) (1.5541,-34.5) (1.5557,-35.5) (1.5573,-35) (1.5589,-35.5) (1.5605,-35.5) (1.5621,-35.5) (1.5637,-34.5) (1.5653,-34.5) (1.5669,-34) (1.5685,-35.5) (1.5701,-34)};
\addplot[c5] coordinates {(1.5094,-31.5) (1.5110,-34.5) (1.5126,-32.5) (1.5142,-34.5) (1.5158,-32) (1.5174,-34.5) (1.5190,-31.5) (1.5206,-34.5) (1.5214,-31) (1.5221,-34.5) (1.5228,-31) (1.5234,-30) (1.5241,-35.5) (1.5247,-29.5) (1.5252,-28.5) (1.5256,-29) (1.5260,-34.5)
 (1.5263,-31) (1.5265,-27.9) (1.5267,-22.9) (1.5269,-18.4) (1.5271,-13.4) (1.5273,-9.9) (1.5276,-6.4) (1.5279,-3.7) (1.5282,-2.5) (1.5286,-1.9) (1.5290,-2.5) (1.5293,-3.7) (1.5296,-6.4) (1.5299,-9.9) (1.5301,-13.4) (1.5303,-18.4) (1.5305,-22.9) (1.5307,-27.9) (1.5309,-31)
 (1.5312,-34.5) (1.5316,-28.5) (1.5320,-27.5) (1.5325,-29) (1.5331,-35.5) (1.5338,-30.5) (1.5344,-31) (1.5351,-34.5) (1.5358,-32) (1.5366,-34.5) (1.5382,-32.5) (1.5398,-35) (1.5414,-33.5) (1.5430,-35) (1.5446,-34) (1.5462,-35.5) (1.5478,-35) (1.5494,-35.5) (1.5510,-34.5) (1.5526,-35.5) (1.5542,-35) (1.5558,-35.5) (1.5574,-35.5) (1.5590,-35.5) (1.5606,-34.5) (1.5622,-35) (1.5638,-34) (1.5654,-34.5) (1.5670,-34) (1.5686,-35) (1.5702,-33.5)};
\addplot[c4] coordinates {(1.5094,-32) (1.5110,-34.5) (1.5126,-31.5) (1.5142,-34.5) (1.5158,-30.5) (1.5174,-34.5) (1.5182,-31.5) (1.5189,-34.5) (1.5196,-31) (1.5202,-30.5) (1.5209,-35.5) (1.5215,-30) (1.5220,-28.5) (1.5224,-29.5) (1.5228,-34.5)
 (1.5231,-31) (1.5233,-27.8) (1.5235,-22.8) (1.5237,-18.3) (1.5239,-13.3) (1.5241,-9.8) (1.5244,-6.3) (1.5247,-3.6) (1.5250,-2.4) (1.5254,-1.8) (1.5258,-2.4) (1.5261,-3.6) (1.5264,-6.3) (1.5267,-9.8) (1.5269,-13.3) (1.5271,-18.3) (1.5273,-22.8) (1.5275,-27.8) (1.5277,-31)
 (1.5280,-34.5) (1.5284,-29) (1.5288,-28) (1.5293,-29.5) (1.5299,-35.5) (1.5306,-30.5) (1.5312,-31) (1.5319,-34.5) (1.5326,-32) (1.5334,-34.5) (1.5350,-33) (1.5366,-35) (1.5382,-32.5) (1.5398,-35) (1.5414,-34) (1.5430,-35.5) (1.5446,-35) (1.5462,-35.5) (1.5478,-34.5) (1.5494,-35.5) (1.5510,-35) (1.5526,-35.5) (1.5542,-35.5) (1.5558,-35.5) (1.5574,-34.5) (1.5590,-35) (1.5606,-34) (1.5622,-34.5) (1.5638,-33) (1.5654,-35) (1.5670,-32.5) (1.5686,-34.5) (1.5702,-33)};
\addplot[c3] coordinates {(1.5094,-31) (1.5110,-34.5) (1.5126,-31) (1.5142,-34.5) (1.5150,-31.5) (1.5157,-34.5) (1.5164,-31) (1.5170,-30.5) (1.5177,-35.5) (1.5183,-30.5) (1.5188,-29) (1.5192,-30) (1.5196,-34.5)
 (1.5199,-31) (1.5201,-28) (1.5203,-23) (1.5205,-18.5) (1.5207,-13.5) (1.5209,-10) (1.5212,-6.5) (1.5215,-3.8) (1.5218,-2.6) (1.5222,-2.0) (1.5226,-2.6) (1.5229,-3.8) (1.5232,-6.5) (1.5235,-10) (1.5237,-13.5) (1.5239,-18.5) (1.5241,-23) (1.5243,-28) (1.5245,-31)
 (1.5248,-34.5) (1.5252,-29.5) (1.5256,-28.5) (1.5261,-30) (1.5267,-35.5) (1.5274,-31) (1.5280,-31.5) (1.5287,-34.5) (1.5294,-32.5) (1.5302,-34.5) (1.5318,-33.5) (1.5334,-35) (1.5350,-34) (1.5366,-35.5) (1.5382,-35) (1.5398,-35.5) (1.5414,-34.5) (1.5430,-35.5) (1.5446,-35.5) (1.5462,-35.5) (1.5478,-35) (1.5494,-35.5) (1.5510,-34.5) (1.5526,-35.5) (1.5542,-35.5) (1.5558,-35.5) (1.5574,-35) (1.5590,-35) (1.5606,-34) (1.5622,-34.5) (1.5638,-33) (1.5654,-35) (1.5670,-33.5) (1.5686,-34.5) (1.5702,-33)};
\addplot[c2] coordinates {(1.5093,-30) (1.5109,-34.5) (1.5117,-31.5) (1.5124,-34.5) (1.5131,-30.5) (1.5137,-30) (1.5144,-35) (1.5150,-29.5) (1.5155,-27.5) (1.5159,-29) (1.5163,-34.5)
 (1.5166,-31) (1.5168,-28.6) (1.5170,-23.6) (1.5172,-19.1) (1.5174,-14.1) (1.5176,-10.6) (1.5179,-7.1) (1.5182,-4.4) (1.5185,-3.2) (1.5189,-2.6) (1.5193,-3.2) (1.5196,-4.4) (1.5199,-7.1) (1.5202,-10.6) (1.5204,-14.1) (1.5206,-19.1) (1.5208,-23.6) (1.5210,-28.6) (1.5212,-31)
 (1.5215,-34.5) (1.5219,-29.5) (1.5223,-28.5) (1.5228,-29.5) (1.5234,-35.5) (1.5241,-30.5) (1.5247,-31) (1.5254,-34.5) (1.5261,-32) (1.5269,-34.5) (1.5285,-33) (1.5301,-35) (1.5317,-34) (1.5333,-35.5) (1.5349,-33.5) (1.5365,-35.5) (1.5381,-35) (1.5397,-35.5) (1.5413,-34.5) (1.5429,-35.5) (1.5445,-35) (1.5461,-35.5) (1.5477,-34) (1.5493,-35.5) (1.5509,-35) (1.5525,-35) (1.5541,-34) (1.5557,-35) (1.5573,-33.5) (1.5589,-34.5) (1.5605,-33) (1.5621,-35.5) (1.5637,-31.5) (1.5653,-34) (1.5669,-30.5) (1.5685,-33.5) (1.5701,-31)};
\addplot[c1] coordinates {(1.5099,-30) (1.5105,-29.5) (1.5112,-35) (1.5118,-30.5) (1.5123,-29) (1.5127,-30) (1.5131,-34.5)
 (1.5134,-31) (1.5136,-29.1) (1.5138,-24.1) (1.5140,-19.6) (1.5142,-14.6) (1.5144,-11.1) (1.5147,-7.6) (1.5150,-4.9) (1.5153,-3.7) (1.5157,-3.1) (1.5161,-3.7) (1.5164,-4.9) (1.5167,-7.6) (1.5170,-11.1) (1.5172,-14.6) (1.5174,-19.6) (1.5176,-24.1) (1.5178,-29.1) (1.5180,-31)
 (1.5183,-34.5) (1.5187,-29.5) (1.5191,-28.5) (1.5196,-30) (1.5202,-35.5) (1.5209,-31) (1.5215,-31.5) (1.5222,-34.5) (1.5229,-32) (1.5237,-34.5) (1.5253,-33) (1.5269,-35) (1.5285,-34) (1.5301,-35) (1.5317,-33.5) (1.5333,-35.5) (1.5349,-35) (1.5365,-35.5) (1.5381,-34) (1.5397,-35.5) (1.5413,-35) (1.5429,-35.5) (1.5445,-34.5) (1.5461,-35.5) (1.5477,-35) (1.5493,-35.5) (1.5509,-34) (1.5525,-35) (1.5541,-35) (1.5557,-35) (1.5573,-34) (1.5589,-34.5) (1.5605,-33.5) (1.5621,-35.5) (1.5637,-32) (1.5645,-31.5) (1.5653,-34) (1.5669,-31) (1.5677,-31.5) (1.5685,-33) (1.5693,-30) (1.5700,-31)};
\end{axis}

\node[rotate=90, font=\labelfont\fontsize{8.5}{10}\selectfont] at (-27pt,94.5pt) {Transmission in dB};
\node[font=\ttfamily\fontsize{9.6}{11}\selectfont] at (147pt,-19pt) {Wavelength in nm};
\end{tikzpicture}
\end{document}
